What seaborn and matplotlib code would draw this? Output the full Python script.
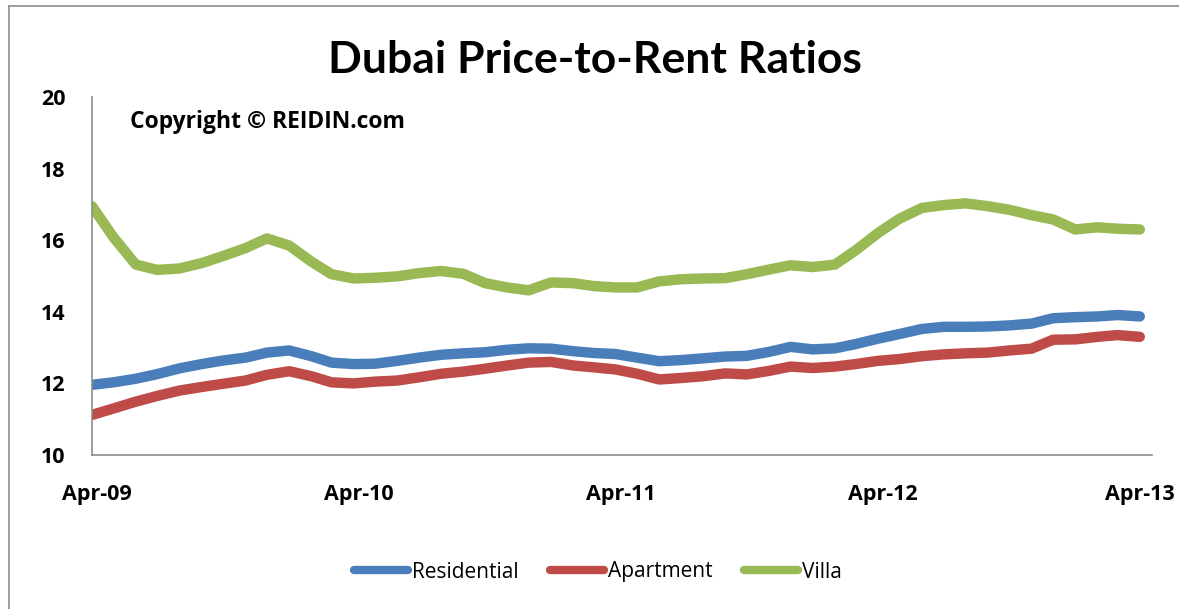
import numpy as np
import pandas as pd
import seaborn as sns
import matplotlib.pyplot as plt
import matplotlib.transforms as mtransforms
from matplotlib.lines import Line2D

# monthly data, Apr-09 .. Apr-13
months = pd.date_range('2009-04-01', '2013-04-01', freq='MS')

residential = [11.96, 12.03, 12.13, 12.26, 12.42, 12.54, 12.64, 12.72, 12.86, 12.92,
               12.76, 12.58, 12.54, 12.55, 12.63, 12.72, 12.80, 12.84, 12.87, 12.94,
               12.98, 12.97, 12.90, 12.85, 12.82, 12.72, 12.62, 12.65, 12.70, 12.75,
               12.77, 12.88, 13.02, 12.95, 12.98, 13.10, 13.25, 13.38, 13.52, 13.58,
               13.58, 13.59, 13.62, 13.67, 13.82, 13.85, 13.87, 13.91, 13.87]
apartment = [11.12, 11.30, 11.49, 11.65, 11.80, 11.90, 11.99, 12.08, 12.24, 12.34,
             12.20, 12.03, 12.00, 12.05, 12.08, 12.17, 12.27, 12.33, 12.41, 12.50,
             12.58, 12.60, 12.50, 12.45, 12.39, 12.27, 12.11, 12.15, 12.20, 12.28,
             12.25, 12.35, 12.47, 12.43, 12.47, 12.54, 12.63, 12.68, 12.76, 12.81,
             12.84, 12.86, 12.92, 12.97, 13.22, 13.23, 13.30, 13.35, 13.30]
villa = [16.95, 16.08, 15.32, 15.17, 15.21, 15.36, 15.56, 15.78, 16.05, 15.85,
         15.40, 15.05, 14.93, 14.95, 14.99, 15.08, 15.14, 15.06, 14.80, 14.68,
         14.60, 14.82, 14.80, 14.72, 14.68, 14.68, 14.85, 14.91, 14.93, 14.94,
         15.05, 15.18, 15.30, 15.25, 15.32, 15.72, 16.20, 16.60, 16.90, 16.98,
         17.03, 16.95, 16.85, 16.70, 16.58, 16.30, 16.36, 16.32, 16.30]

series_names = ['Residential', 'Apartment', 'Villa']
series_colors = ['#4A7EBB', '#BE4B48', '#98B954']
tick_dates = ['2009-04-01', '2010-04-01', '2011-04-01', '2012-04-01', '2013-04-01']
tick_labels = ['Apr-09', 'Apr-10', 'Apr-11', 'Apr-12', 'Apr-13']
y_ticks = [10, 12, 14, 16, 18, 20]

df = pd.DataFrame({'month': months, 'Residential': residential,
                   'Apartment': apartment, 'Villa': villa})
df = df.melt(id_vars='month', var_name='series', value_name='ratio')

sns.set_style('white')
plt.rcParams['font.family'] = ['Open Sans', 'DejaVu Sans']
plt.rcParams['text.color'] = 'black'
plt.rcParams['xtick.color'] = 'black'
plt.rcParams['ytick.color'] = 'black'

fig = plt.figure(figsize=(11.79, 6.09), dpi=100)
ax = fig.add_axes([92 / 1179, 1 - 455 / 609, 1060 / 1179, 358 / 609])

sns.lineplot(data=df, x='month', y='ratio', hue='series',
             palette=dict(zip(series_names, series_colors)),
             linewidth=7.5, legend=False, ax=ax,
             solid_capstyle='round', solid_joinstyle='round')

ax.set_xlim(months[0], months[-1] + pd.Timedelta(days=17))
ax.set_ylim(10, 20)
ax.set_yticks(y_ticks)
ax.set_xticks(pd.to_datetime(tick_dates))
ax.set_xticklabels(tick_labels)
ax.tick_params(axis='x', length=0, pad=21, labelsize=15.5)
ax.tick_params(axis='y', length=0, pad=19, labelsize=15.5)
# excel puts the date labels a little right of the tick
shift = mtransforms.ScaledTranslation(5 / 100, 0, fig.dpi_scale_trans)
for lbl in ax.get_xticklabels()[:-1]:
    lbl.set_transform(lbl.get_transform() + shift)
for lbl in ax.get_xticklabels() + ax.get_yticklabels():
    lbl.set_fontweight('bold')
ax.set_xlabel('')
ax.set_ylabel('')

for side in ['top', 'right']:
    ax.spines[side].set_visible(False)
for side in ['left', 'bottom']:
    ax.spines[side].set_color('#8c8c8c')
    ax.spines[side].set_linewidth(1.2)

fig.text(595 / 1179, 1 - 60 / 609, 'Dubai Price-to-Rent Ratios',
         ha='center', va='center', fontsize=32, fontweight='bold',
         family=['Lato', 'DejaVu Sans'])
ax.text(0.036, 0.93, 'Copyright \u00a9 REIDIN.com', transform=ax.transAxes,
        ha='left', va='center', fontsize=16.5, fontweight='bold')

handles = [Line2D([], [], color=c, lw=6, solid_capstyle='round') for c in series_colors]
fig.legend(handles, series_names, loc='center', ncol=3, frameon=False,
           bbox_to_anchor=(598 / 1179, 1 - 572 / 609), fontsize=15,
           handlelength=2.6, handletextpad=0.2, columnspacing=1.5)

# outer chart frame
fig.add_artist(Line2D([9 / 1179, 1], [1 - 6 / 609, 1 - 6 / 609],
                      transform=fig.transFigure, color='#8c8c8c', lw=1.2))
fig.add_artist(Line2D([9 / 1179, 9 / 1179], [0, 1 - 6 / 609],
                      transform=fig.transFigure, color='#8c8c8c', lw=1.2))

plt.savefig('out.png', dpi=100)
